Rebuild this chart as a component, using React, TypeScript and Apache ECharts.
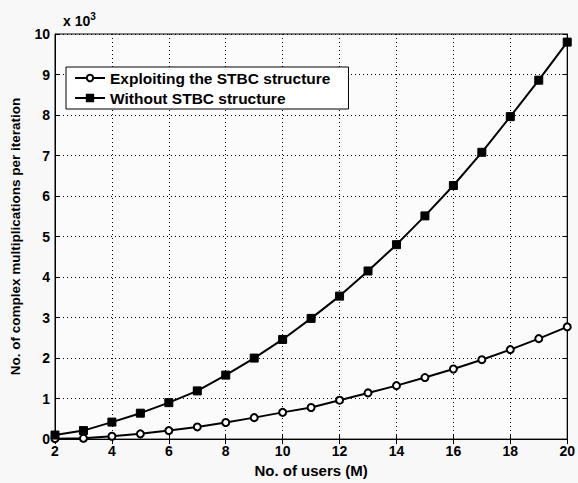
import React, { useEffect, useRef } from "react";
import * as echarts from "echarts";

const users = [2, 3, 4, 5, 6, 7, 8, 9, 10, 11, 12, 13, 14, 15, 16, 17, 18, 19, 20];
const exploitingSTBC = [10, 20, 70, 130, 210, 300, 410, 530, 660, 780, 960, 1140, 1320, 1520, 1730, 1960, 2210, 2480, 2770];
const withoutSTBC = [100, 210, 420, 640, 900, 1190, 1580, 2000, 2460, 2980, 3530, 4150, 4800, 5510, 6260, 7080, 7960, 8860, 9800];
const yTicks = [0, 1, 2, 3, 4, 5, 6, 7, 8, 9, 10];

const FONT = "Liberation Sans";

export default function App() {
  const ref = useRef<HTMLDivElement>(null);
  useEffect(() => {
    const chart = echarts.init(ref.current!, null, { renderer: "svg" });
    const gridLine = { show: true, lineStyle: { color: "#000", type: [1, 3] as any, width: 1 } };
    const labelStyle = { color: "#000", fontFamily: FONT, fontWeight: "bold" as const, fontSize: 14 };
    chart.setOption({
      animation: false,
      backgroundColor: "#f8f8f8",
      grid: { left: 52, right: 10, top: 34, bottom: 42, show: true, borderColor: "#000", borderWidth: 1, backgroundColor: "#fbfbfb" },
      title: {
        text: "x 10{s|3}",
        left: 58,
        top: 6,
        textStyle: {
          ...labelStyle,
          fontSize: 14,
          rich: { s: { fontFamily: FONT, fontWeight: "bold", fontSize: 10, verticalAlign: "top", padding: [0, 0, 9, 0], color: "#000" } },
        },
      },
      legend: {
        left: 66,
        top: 67,
        orient: "vertical",
        backgroundColor: "#fff",
        borderColor: "#000",
        borderWidth: 1,
        borderRadius: 0,
        padding: [3, 18, 3, 8],
        itemGap: 4,
        itemWidth: 30,
        itemHeight: 8,
        textStyle: { ...labelStyle, fontSize: 15.5 },
        data: ["Exploiting the STBC structure", "Without STBC structure"],
      },
      xAxis: [
        {
          type: "value",
          min: 2,
          max: 20,
          interval: 2,
          name: "No. of users (M)",
          nameLocation: "middle",
          nameGap: 22,
          nameTextStyle: { ...labelStyle, fontSize: 15 },
          axisLine: { show: true, lineStyle: { color: "#000", width: 1 } },
          axisTick: { show: true, inside: true, length: 5, lineStyle: { color: "#000" } },
          axisLabel: { ...labelStyle, margin: 5 },
          splitLine: gridLine,
        },
        {
          type: "value",
          position: "top",
          min: 2,
          max: 20,
          interval: 2,
          axisLine: { show: true, lineStyle: { color: "#000" } },
          axisTick: { show: true, inside: true, length: 5, lineStyle: { color: "#000" } },
          axisLabel: { show: false },
          splitLine: { show: false },
        },
      ],
      yAxis: [
        {
          type: "value",
          min: 0,
          max: 10000,
          interval: 1000,
          name: "No. of complex multiplications per iteration",
          nameLocation: "middle",
          nameGap: 33,
          nameTextStyle: { ...labelStyle, fontSize: 13.5 },
          axisLine: { show: true, lineStyle: { color: "#000", width: 1 } },
          axisTick: { show: true, inside: true, length: 5, lineStyle: { color: "#000" } },
          axisLabel: { ...labelStyle, margin: 5, formatter: (v: number) => String(yTicks[Math.round(v / 1000)]) },
          splitLine: gridLine,
        },
        {
          type: "value",
          position: "right",
          min: 0,
          max: 10000,
          interval: 1000,
          axisLine: { show: true, lineStyle: { color: "#000" } },
          axisTick: { show: true, inside: true, length: 5, lineStyle: { color: "#000" } },
          axisLabel: { show: false },
          splitLine: { show: false },
        },
      ],
      series: [
        {
          name: "Exploiting the STBC structure",
          type: "line",
          data: users.map((u, i) => [u, exploitingSTBC[i]]),
          symbol: "circle",
          symbolSize: 7,
          showAllSymbol: true,
          lineStyle: { color: "#000", width: 2 },
          itemStyle: { color: "#fff", borderColor: "#000", borderWidth: 2 },
        },
        {
          name: "Without STBC structure",
          type: "line",
          data: users.map((u, i) => [u, withoutSTBC[i]]),
          symbol: "rect",
          symbolSize: 8,
          showAllSymbol: true,
          lineStyle: { color: "#000", width: 2 },
          itemStyle: { color: "#000", borderColor: "#000", borderWidth: 1 },
        },
      ],
    });
    return () => chart.dispose();
  }, []);
  return <div ref={ref} style={{ width: 578, height: 483, position: "absolute", left: 0, top: 0 }} />;
}
